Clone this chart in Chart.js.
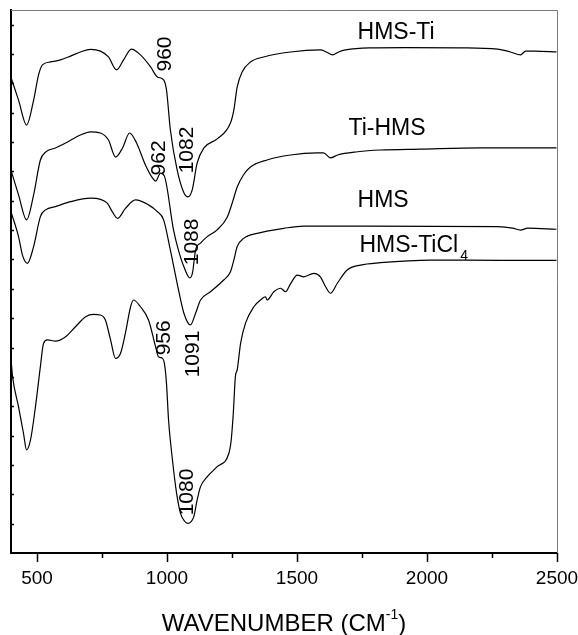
<!DOCTYPE html>
<html lang="en">
<head>
    <meta charset="UTF-8">
    <title>IR spectra</title>
    <script src="https://cdn.jsdelivr.net/npm/chart.js"></script>
    <style>
        html, body { margin: 0; padding: 0; background: #fff; }
    </style>
</head>
<body>
<canvas id="myChart" width="578" height="635"></canvas>
<script>
    // wavenumber (cm-1) / offset transmittance
    const hmsTiX = [402,429,460,487,506,521,552,590,629,667,706,744,775,806,833,863,898,937,963,987,
        998,1013,1039,1065,1080,1097,1116,1142,1193,1244,1257,1270,1289,1321,1372,1475,1590,1613,1637,1660,
        1687,1779,1914,2129,2271,2321,2360,2379,2417,2498];
    const hmsTiY = [16.15,15.43,14.58,15.43,16.29,16.63,16.73,16.80,16.93,17.07,17.16,17.10,16.90,16.46,16.80,17.17,16.97,16.56,16.22,16.12,
        15.78,14.41,13.05,12.27,12.13,12.37,13.29,13.80,14.11,14.65,15.09,15.88,16.39,16.73,16.90,17.07,17.14,17.07,16.97,17.07,
        17.14,17.21,17.22,17.21,17.17,17.07,16.97,17.10,17.10,17.07];

    const tiHmsX = [402,429,460,487,513,533,571,610,667,706,744,775,802,829,856,883,917,944,956,975,
        990,1025,1044,1065,1088,1098,1110,1129,1155,1193,1232,1251,1270,1294,1321,1385,1475,1578,1602,1629,
        1656,1733,1821,1975,2206,2498];
    const tiHmsY = [12.98,12.20,11.35,12.20,13.39,13.66,13.80,13.97,14.24,14.35,14.31,14.07,13.49,13.80,14.31,13.97,13.22,12.78,12.67,12.94,
        12.84,11.01,10.32,9.75,9.37,9.54,10.32,10.56,10.78,11.01,11.45,11.93,12.47,12.88,13.15,13.39,13.56,13.63,13.63,13.46,
        13.56,13.67,13.73,13.76,13.80,13.80];

    const hmsX = [402,429,444,463,487,513,533,571,629,706,744,771,790,810,840,879,929,963,987,1013,
        1039,1065,1090,1110,1129,1167,1218,1244,1257,1270,1295,1347,1449,1526,1783,2271,2329,2360,2387,2498];
    const hmsY = [11.57,10.78,10.15,9.87,10.44,11.46,11.69,11.80,11.97,12.09,12.05,11.91,11.62,11.40,11.74,12.03,11.86,11.63,11.35,10.32,
        9.19,8.17,7.77,8.17,8.62,8.90,9.30,9.58,9.98,10.44,10.72,10.89,11.06,11.14,11.14,11.12,11.07,11.00,11.07,11.03];

    const hmsTiCl4X = [402,406,429,448,460,475,494,513,525,540,571,610,648,687,717,744,763,783,802,821,
        840,860,871,898,929,956,967,983,990,998,1006,1021,1037,1052,1067,1080,1103,1116,1129,1155,
        1193,1238,1247,1255,1263,1270,1283,1302,1334,1360,1379,1385,1411,1437,1456,1475,1501,1526,1565,1590,
        1610,1629,1655,1693,1744,1821,2014,2283,2498];
    const hmsTiCl4Y = [6.41,6.01,4.98,4.08,3.51,3.85,4.98,6.35,7.14,7.26,7.22,7.37,7.71,8.05,8.13,8.11,7.94,7.26,6.63,6.80,
        7.49,8.39,8.62,8.39,7.94,7.03,6.69,6.63,6.46,5.78,4.53,3.17,2.03,1.35,1.09,1.01,1.24,1.81,2.26,2.60,
        2.94,3.40,3.85,4.76,6.01,6.24,7.14,7.83,8.39,8.62,8.73,8.62,8.90,9.02,8.90,9.17,9.47,9.41,9.53,9.41,
        9.07,8.85,9.19,9.64,9.81,9.89,9.98,9.97,9.97];

    const seriesNames = ['HMS-Ti', 'Ti-HMS', 'HMS', 'HMS-TiCl'];
    const seriesSub = ['', '', '', '4'];
    const nameX = [1733, 1698, 1733, 1740];
    const nameY = [17.72, 14.45, 11.99, 10.46];

    const peakText = ['960', '1082', '962', '1088', '1091', '956', '1080'];
    const peakX = [994, 1079, 971, 1098, 1100, 990, 1079];
    const peakY = [17.00, 13.73, 13.46, 10.60, 6.78, 7.33, 2.08];

    const xMajor = [500, 1000, 1500, 2000, 2500];
    const xMinor = [750, 1250, 1750, 2250];
    const yTicks = [1,2,3,4,5,6,7,8,9,10,11,12,13,14,15,16,17,18];

    const FONT = '"Liberation Sans", Arial, Helvetica, sans-serif';

    function toPoints(xs, ys) {
        return xs.map((x, i) => ({x: x, y: ys[i]}));
    }

    function line(label, xs, ys) {
        return {
            label: label,
            data: toPoints(xs, ys),
            borderColor: '#000',
            borderWidth: 1.2,
            pointRadius: 0,
            cubicInterpolationMode: 'monotone',
            fill: false
        };
    }

    const decorations = {
        id: 'decorations',
        afterDraw(chart) {
            const ctx = chart.ctx;
            const a = chart.chartArea;
            const xs = chart.scales.x;
            const ys = chart.scales.y;
            ctx.save();

            // thin frame on top and right
            ctx.strokeStyle = '#7a7a7a';
            ctx.lineWidth = 1;
            ctx.beginPath();
            ctx.moveTo(a.left, a.top + 0.5);
            ctx.lineTo(a.right + 0.5, a.top + 0.5);
            ctx.lineTo(a.right + 0.5, a.bottom);
            ctx.stroke();

            // inward y ticks
            ctx.strokeStyle = '#000';
            ctx.lineWidth = 1.5;
            yTicks.forEach(v => {
                const y = Math.round(ys.getPixelForValue(v)) + 0.5;
                ctx.beginPath();
                ctx.moveTo(a.left - 1, y);
                ctx.lineTo(a.left + 3, y);
                ctx.stroke();
            });

            // outward x ticks
            xMajor.forEach(v => {
                const x = Math.round(xs.getPixelForValue(v)) + 0.5;
                ctx.beginPath();
                ctx.moveTo(x, a.bottom);
                ctx.lineTo(x, a.bottom + 9);
                ctx.stroke();
            });
            xMinor.forEach(v => {
                const x = Math.round(xs.getPixelForValue(v)) + 0.5;
                ctx.beginPath();
                ctx.moveTo(x, a.bottom);
                ctx.lineTo(x, a.bottom + 5);
                ctx.stroke();
            });

            ctx.fillStyle = '#000';

            // series names
            ctx.textAlign = 'left';
            ctx.textBaseline = 'middle';
            seriesNames.forEach((name, i) => {
                const x = xs.getPixelForValue(nameX[i]);
                const y = ys.getPixelForValue(nameY[i]);
                ctx.font = '23px ' + FONT;
                ctx.fillText(name, x, y);
                if (seriesSub[i]) {
                    const w = ctx.measureText(name).width;
                    ctx.font = '14px ' + FONT;
                    ctx.fillText(seriesSub[i], x + w + 2, y + 10);
                }
            });

            // rotated peak positions
            ctx.font = '21px ' + FONT;
            ctx.textAlign = 'center';
            peakText.forEach((t, i) => {
                ctx.save();
                ctx.translate(xs.getPixelForValue(peakX[i]), ys.getPixelForValue(peakY[i]));
                ctx.rotate(-Math.PI / 2);
                ctx.fillText(t, 0, 0);
                ctx.restore();
            });

            // axis title with superscript
            const main = 'WAVENUMBER (CM';
            const sup = '-1';
            const close = ')';
            ctx.textBaseline = 'alphabetic';
            ctx.textAlign = 'left';
            ctx.font = '24px ' + FONT;
            const wMain = ctx.measureText(main).width;
            const wClose = ctx.measureText(close).width;
            ctx.font = '14px ' + FONT;
            const wSup = ctx.measureText(sup).width;
            const total = wMain + wSup + wClose;
            let tx = (a.left + a.right) / 2 - total / 2;
            const ty = 631;
            ctx.font = '24px ' + FONT;
            ctx.fillText(main, tx, ty);
            tx += wMain;
            ctx.font = '14px ' + FONT;
            ctx.fillText(sup, tx, ty - 12);
            tx += wSup;
            ctx.font = '24px ' + FONT;
            ctx.fillText(close, tx, ty);

            ctx.restore();
        }
    };

    function init() {
        const ctx = document.getElementById('myChart').getContext('2d');
        new Chart(ctx, {
            type: 'line',
            data: {
                datasets: [
                    line('HMS-Ti', hmsTiX, hmsTiY),
                    line('Ti-HMS', tiHmsX, tiHmsY),
                    line('HMS', hmsX, hmsY),
                    line('HMS-TiCl4', hmsTiCl4X, hmsTiCl4Y)
                ]
            },
            options: {
                responsive: false,
                animation: false,
                layout: {padding: {left: 11, right: 21, top: 10, bottom: 0}},
                plugins: {
                    legend: {display: false},
                    tooltip: {enabled: false}
                },
                scales: {
                    x: {
                        type: 'linear',
                        min: 400,
                        max: 2500,
                        afterBuildTicks: scale => {
                            scale.ticks = xMajor.map(v => ({value: v}));
                        },
                        afterFit: scale => {
                            scale.height = 82;
                            scale.paddingLeft = 0;
                            scale.paddingRight = 0;
                        },
                        grid: {display: false, drawTicks: false},
                        border: {display: true, color: '#000', width: 2},
                        ticks: {
                            color: '#000',
                            padding: 14,
                            maxRotation: 0,
                            autoSkip: false,
                            callback: v => String(v),
                            font: {family: FONT, size: 19}
                        }
                    },
                    y: {
                        min: 0,
                        max: 18.5,
                        afterFit: scale => {
                            scale.width = 0;
                            scale.paddingTop = 0;
                            scale.paddingBottom = 0;
                        },
                        grid: {display: false, drawTicks: false},
                        border: {display: true, color: '#000', width: 2},
                        ticks: {display: false, stepSize: 1}
                    }
                }
            },
            plugins: [decorations]
        });
    }

    document.addEventListener('DOMContentLoaded', init);
</script>
</body>
</html>
